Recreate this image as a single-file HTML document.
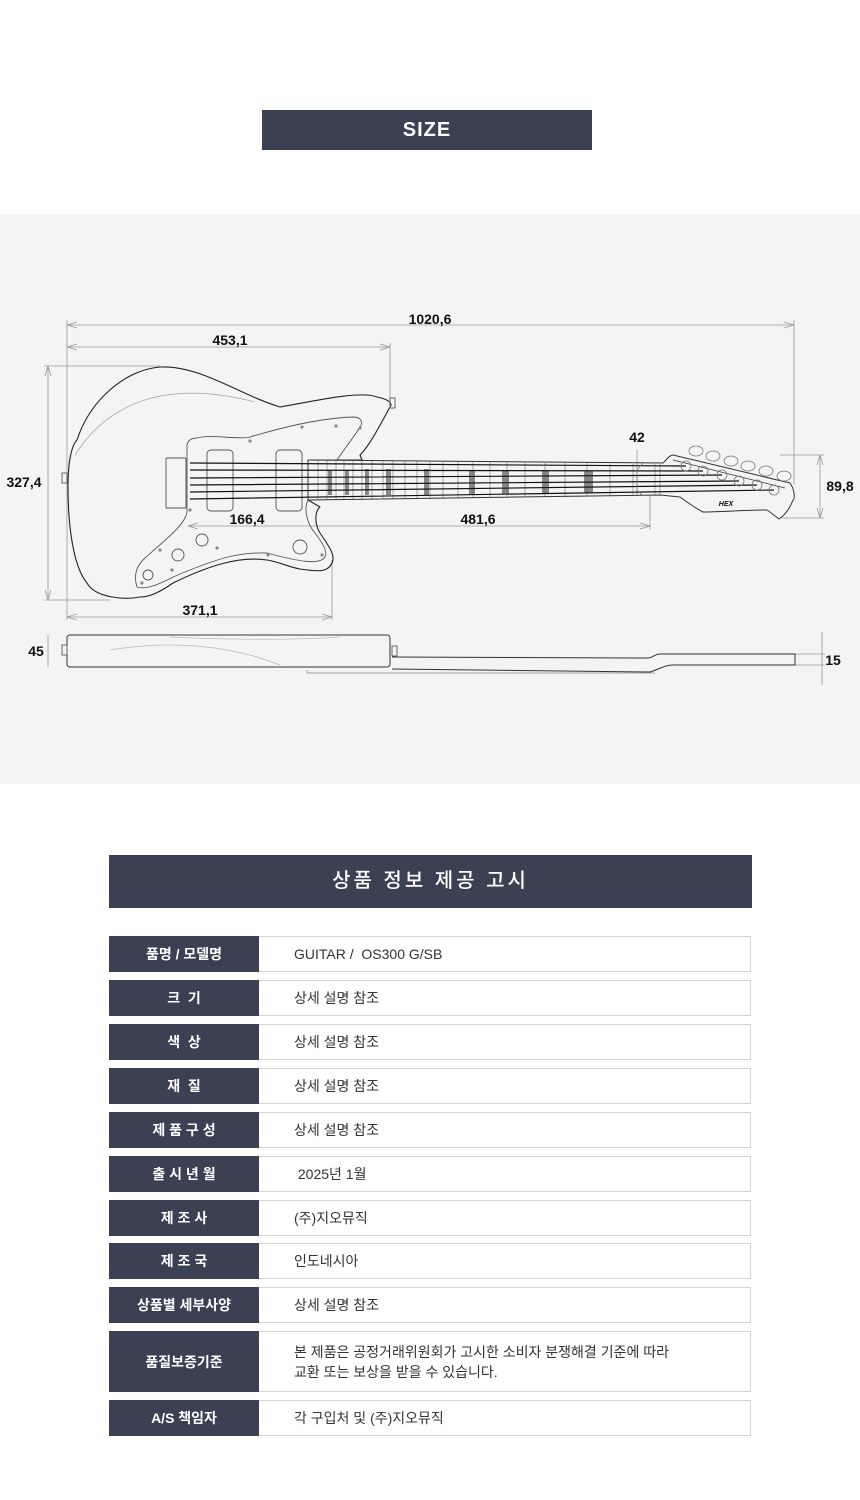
<!DOCTYPE html>
<html><head><meta charset="utf-8">
<style>
*{margin:0;padding:0;box-sizing:border-box}
body{width:860px;height:1500px;background:#fff;font-family:"Liberation Sans","Noto Sans CJK KR",sans-serif;position:relative;overflow:hidden}
.size{position:absolute;left:262px;top:110px;width:330px;height:40px;background:#3b4152;color:#fff;font-weight:bold;font-size:20px;text-align:center;line-height:40px;letter-spacing:1px}
.band{position:absolute;left:0;top:214px;width:860px;height:570px;background:#f4f4f4}
svg{position:absolute;left:0;top:0}
.hdr{position:absolute;left:109px;top:855px;width:643px;height:53px;background:#3b4152;color:#fff;font-size:20px;text-align:center;line-height:53px;font-weight:500;letter-spacing:3px}
.row{position:absolute;left:109px;width:642px;height:36px;border:1px solid #d4d4d4;background:#fff}
.row .l{position:absolute;left:-1px;top:-1px;width:150px;height:calc(100% + 2px);background:#3b4152;color:#fff;font-size:14px;font-weight:bold;display:flex;align-items:center;justify-content:center}
.row .v{position:absolute;left:184px;top:0;height:100%;display:flex;align-items:center;font-size:14px;color:#333;line-height:20px}
</style></head><body>
<div class="size">SIZE</div>
<div class="band"></div>
<svg width="860" height="800" viewBox="0 0 860 800" fill="none" stroke-linejoin="round">
<g stroke="#999" stroke-width="0.8">
<line x1="67" y1="325" x2="794" y2="325"/><line x1="67" y1="347" x2="390" y2="347"/>
<line x1="67" y1="320" x2="67" y2="620"/><line x1="794" y1="320" x2="794" y2="485"/>
<line x1="390" y1="343" x2="390" y2="400"/>
<line x1="48" y1="366" x2="48" y2="600"/><line x1="44" y1="366" x2="160" y2="366"/><line x1="44" y1="600" x2="110" y2="600"/>
<line x1="67" y1="617" x2="332" y2="617"/><line x1="332" y1="560" x2="332" y2="620"/>
<line x1="188" y1="526" x2="650" y2="526"/><line x1="650" y1="495" x2="650" y2="530"/>
<line x1="820" y1="455" x2="820" y2="518"/><line x1="780" y1="455" x2="824" y2="455"/><line x1="780" y1="518" x2="824" y2="518"/>
<line x1="637" y1="450" x2="637" y2="495"/>
<line x1="48" y1="635" x2="48" y2="667"/><line x1="822" y1="632" x2="822" y2="685"/>
<line x1="795" y1="654" x2="825" y2="654"/><line x1="795" y1="665" x2="825" y2="665"/>
<path d="M77,322 L67,325 L77,328 M784,322 L794,325 L784,328 M77,344 L67,347 L77,350 M380,344 L390,347 L380,350 M45,376 L48,366 L51,376 M45,590 L48,600 L51,590 M77,614 L67,617 L77,620 M322,614 L332,617 L322,620 M198,523 L188,526 L198,529 M640,523 L650,526 L640,529 M817,465 L820,455 L823,465 M817,508 L820,518 L823,508"/>
<path d="M75,455 C110,400 170,380 255,402" stroke="#aaa"/>
<path d="M110,650 C170,640 230,645 280,665 M170,637 C230,640 300,640 340,637" stroke="#bbb"/>
</g>
<g stroke="#222" stroke-width="1.1">
<path d="M160,367 C200,365 240,395 280,407 C310,402 360,390 377,397 C392,400 392,405 390,407 C380,425 370,445 360,455 L362,460 L308,460 L308,500 L320,507 C314,512 315,525 320,533 C328,545 336,555 332,563 C328,572 320,572 300,569 C285,566 280,562 267,560 C240,556 210,565 173,583 C160,592 150,597 140,597 C125,600 95,598 87,583 C72,565 68,520 68,487 C68,460 72,445 77,440 C90,400 125,370 160,367 Z"/>
</g>
<g stroke="#555" stroke-width="0.9">
<path d="M197,438 C210,434 240,440 250,437 C280,428 320,418 353,417 C362,417 363,423 360,427 C352,440 342,452 337,460 L308,460 L308,500 C303,510 308,525 315,533 C322,542 328,552 325,557 C320,565 300,562 267,553 C240,552 220,557 173,577 C160,584 145,590 137,587 C133,575 137,565 145,558 C165,540 185,525 187,512 L187,445 C188,440 192,438 197,438 Z"/>
<rect x="207" y="450" width="26" height="61" rx="4"/><rect x="276" y="450" width="26" height="61" rx="4"/>
<rect x="166" y="458" width="20" height="50" rx="1"/>
<circle cx="202" cy="540" r="6"/><circle cx="178" cy="555" r="6"/><circle cx="148" cy="575" r="5"/>
<circle cx="300" cy="547" r="7"/>
</g>
<g fill="#888" stroke="none">
<circle cx="302" cy="427" r="1.6"/><circle cx="250" cy="441" r="1.6"/><circle cx="336" cy="426" r="1.6"/><circle cx="360" cy="428" r="1.6"/><circle cx="268" cy="555" r="1.6"/><circle cx="217" cy="548" r="1.6"/><circle cx="160" cy="550" r="1.6"/><circle cx="172" cy="570" r="1.6"/><circle cx="142" cy="583" r="1.6"/><circle cx="322" cy="555" r="1.6"/><circle cx="190" cy="510" r="1.6"/>
<rect x="328" y="470" width="4" height="25"/><rect x="345" y="470" width="4" height="25"/><rect x="365" y="469" width="4" height="26"/><rect x="386" y="469" width="5" height="26"/><rect x="424" y="469" width="5" height="26"/><rect x="469" y="470" width="6" height="24"/><rect x="502" y="470" width="7" height="24"/><rect x="542" y="471" width="7" height="23"/><rect x="584" y="471" width="9" height="22"/>
</g>
<g stroke="#777" stroke-width="0.6">
<path d="M318,460V500M327,460V500M336,461V500M344,461V500M353,461V500M362,461V500M372,461V499M383,461V499M393,461V499M405,461V499M417,461V499M430,462V499M443,462V499M458,462V498M473,462V498M490,462V498M507,462V498M525,463V497M545,463V497M565,463V497M587,463V496M610,464V496M633,464V495M655,464V495M660,464V495"/>
</g>
<g stroke="#333" stroke-width="1">
<path d="M308,460 L663,463 C668,458 670,455 673,455 L790,483 C795,490 795,500 793,500 C790,508 785,515 779,519 C775,516 770,512 767,510 C745,510 720,512 703,512 C695,508 690,504 680,497 L660,495 L308,500"/>
<path d="M673,460 L785,488" stroke-width="0.8"/>
</g>
<g stroke="#111" stroke-width="1.2">
<path d="M190,463 L686,466 M190,470 L703,471 M190,478 L722,475 M190,485 L739,481 M190,492 L757,485 M190,499 L774,490"/>
</g>
<g stroke="#777" stroke-width="0.8">
<circle cx="686" cy="466" r="5"/><circle cx="703" cy="471" r="5"/><circle cx="722" cy="475" r="5"/><circle cx="739" cy="481" r="5"/><circle cx="757" cy="485" r="5"/><circle cx="774" cy="490" r="5"/>
<ellipse cx="696" cy="451" rx="7" ry="5"/><ellipse cx="713" cy="456" rx="7" ry="5"/><ellipse cx="731" cy="461" rx="7" ry="5"/><ellipse cx="748" cy="466" rx="7" ry="5"/><ellipse cx="766" cy="471" rx="7" ry="5"/><ellipse cx="784" cy="476" rx="7" ry="5"/>
<path d="M643,463 L637,470 L637,490 L643,496"/>
</g>
<g stroke="#333" stroke-width="1">
<rect x="67" y="635" width="323" height="32" rx="3"/>
<path d="M392,657 L648,658 C652,658 655,654 660,654 L795,654 L795,665 L673,665 C665,665 660,669 650,672 L392,669"/>
<path d="M307,670 L307,673 L655,673" stroke="#888" stroke-width="0.8"/>
<rect x="392" y="646" width="5" height="10" stroke="#666"/><rect x="62" y="645" width="5" height="10" stroke="#666"/><rect x="62" y="473" width="5" height="10" stroke="#666"/><rect x="390" y="398" width="5" height="10" stroke="#666"/>
</g>
<g fill="#111" stroke="none" font-family="Liberation Sans, sans-serif" font-size="14" font-weight="bold" text-anchor="middle">
<text x="430" y="324">1020,6</text><text x="230" y="345">453,1</text><text x="24" y="487">327,4</text><text x="637" y="442">42</text><text x="840" y="491">89,8</text><text x="247" y="524">166,4</text><text x="478" y="524">481,6</text><text x="200" y="615">371,1</text><text x="36" y="656">45</text><text x="833" y="665">15</text>
<text x="726" y="506" font-size="7" font-style="italic">HEX</text>
</g>
</svg>
<div class="hdr">상품 정보 제공 고시</div>
<div class="row" style="top:936px"><div class="l">품명 / 모델명</div><div class="v">GUITAR /&nbsp; OS300 G/SB</div></div>
<div class="row" style="top:980px"><div class="l">크 &nbsp;기</div><div class="v">상세 설명 참조</div></div>
<div class="row" style="top:1024px"><div class="l">색 &nbsp;상</div><div class="v">상세 설명 참조</div></div>
<div class="row" style="top:1068px"><div class="l">재 &nbsp;질</div><div class="v">상세 설명 참조</div></div>
<div class="row" style="top:1112px"><div class="l">제 품 구 성</div><div class="v">상세 설명 참조</div></div>
<div class="row" style="top:1156px"><div class="l">출 시 년 월</div><div class="v">&nbsp;2025년 1월</div></div>
<div class="row" style="top:1200px"><div class="l">제 조 사</div><div class="v">(주)지오뮤직</div></div>
<div class="row" style="top:1243px"><div class="l">제 조 국</div><div class="v">인도네시아</div></div>
<div class="row" style="top:1287px"><div class="l">상품별 세부사양</div><div class="v">상세 설명 참조</div></div>
<div class="row" style="top:1331px;height:61px"><div class="l">품질보증기준</div><div class="v">본 제품은 공정거래위원회가 고시한 소비자 분쟁해결 기준에 따라<br>교환 또는 보상을 받을 수 있습니다.</div></div>
<div class="row" style="top:1400px"><div class="l">A/S 책임자</div><div class="v">각 구입처 및 (주)지오뮤직</div></div>
</body></html>
